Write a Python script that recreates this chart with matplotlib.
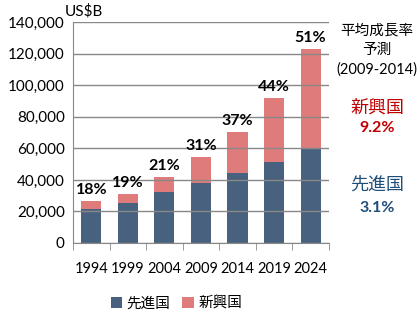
import matplotlib.pyplot as plt
import numpy as np

plt.rcParams['font.family'] = ['Lato', 'Noto Sans CJK JP', 'DejaVu Sans']

years = ['1994', '1999', '2004', '2009', '2014', '2019', '2024']
developed = [21800, 25200, 32500, 37800, 44300, 51500, 60200]
emerging = [4800, 5800, 9300, 16800, 26000, 40400, 62700]
shares = ['18%', '19%', '21%', '31%', '37%', '44%', '51%']

c_dev = '#48617f'
c_emg = '#e07b7b'

fig = plt.figure(figsize=(4.2, 3.21), dpi=100)
ax = fig.add_axes([0.174, 0.243, 0.609, 0.688])

x = np.arange(len(years))
ax.bar(x, developed, width=0.55, color=c_dev, label='先進国', zorder=2)
ax.bar(x, emerging, width=0.55, bottom=developed, color=c_emg, label='新興国', zorder=2)

tot = np.array(developed) + np.array(emerging)
for i in range(len(years)):
    ax.text(x[i], tot[i] + 2500, shares[i], ha='center', va='bottom',
            fontsize=11.5, fontweight='bold')

ax.set_xlim(-0.5, len(years) - 0.5)
ax.set_ylim(0, 140000)
ax.set_yticks(np.arange(0, 140001, 20000))
ax.set_yticklabels(['{:,}'.format(v) for v in range(0, 140001, 20000)], fontsize=11)
ax.set_xticks(x)
ax.set_xticklabels(years, fontsize=10.5)
ax.tick_params(axis='x', length=0, pad=14)
ax.tick_params(axis='y', length=0, pad=6)
# разделители категорий снизу
ax.set_xticks(np.arange(-0.5, len(years), 1), minor=True)
ax.tick_params(axis='x', which='minor', length=5, color='#888888')

ax.grid(axis='y', color='#888888', lw=1, zorder=3)
ax.set_axisbelow(False)
for s in ['top', 'right']:
    ax.spines[s].set_visible(False)
ax.spines['left'].set_color('#888888')
ax.spines['bottom'].set_color('#888888')

fig.text(0.155, 0.965, 'US$B', fontsize=11, va='center')

fig.text(0.898, 0.844, '平均成長率\n予測\n(2009-2014)', ha='center', va='center',
         fontsize=10.5, linespacing=1.45)
fig.text(0.898, 0.664, '新興国', ha='center', va='center', fontsize=13, color='#c00000')
fig.text(0.898, 0.60, '9.2%', ha='center', va='center', fontsize=11.5,
         fontweight='bold', color='#c00000')
fig.text(0.898, 0.424, '先進国', ha='center', va='center', fontsize=13, color='#1f4e79')
fig.text(0.898, 0.352, '3.1%', ha='center', va='center', fontsize=11.5,
         fontweight='bold', color='#1f4e79')

fig.legend(loc='center', bbox_to_anchor=(0.42, 0.055), ncol=2, frameon=False,
           fontsize=10.5, handlelength=0.8, handleheight=0.8, handletextpad=0.3,
           columnspacing=0.8)

plt.savefig('out.png', dpi=100)
